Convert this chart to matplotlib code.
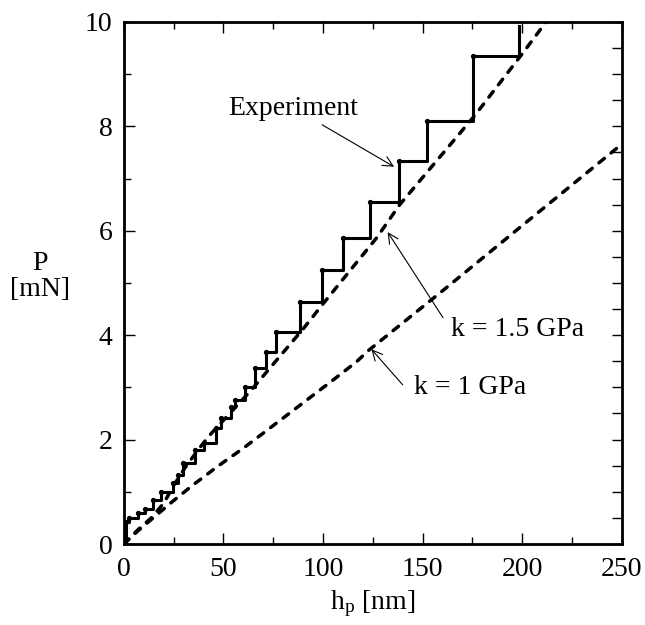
import numpy as np
import matplotlib
matplotlib.use("Agg")
import matplotlib.pyplot as plt

plt.rcParams['font.family'] = ['Liberation Serif', 'DejaVu Serif']
plt.rcParams['mathtext.fontset'] = 'custom'
plt.rcParams['mathtext.rm'] = 'Liberation Serif'
plt.rcParams['mathtext.it'] = 'Liberation Serif:italic'

# experiment staircase corners (h in nm, P in mN)
exp_h = [1.0, 1.0, 2.7, 7.0, 10.4, 14.6, 18.8, 24.6, 27.1, 29.6, 35.8, 40.0,
         46.5, 49.0, 53.9, 55.7, 60.7, 65.8, 71.6, 76.3, 88.4, 99.7, 110.1,
         123.5, 138.2, 152.3, 175.4, 198.5]
exp_P = [0.0, 0.43, 0.49, 0.59, 0.68, 0.84, 1.00, 1.16, 1.32, 1.55, 1.80, 1.93,
         2.22, 2.41, 2.62, 2.76, 3.01, 3.38, 3.68, 4.07, 4.63, 5.25, 5.86,
         6.55, 7.34, 8.11, 9.34, 9.92]

# model curves
k15_h = [0, 7, 13.8, 20, 25, 30.5, 37.2, 43, 64, 90, 100, 127, 138.5, 176, 199, 212]
k15_P = [0, 0.27, 0.50, 0.78, 1.12, 1.45, 1.80, 2.08, 2.95, 4.12, 4.6, 5.87, 6.5,
         8.2, 9.34, 10.0]
k1_h = [0, 7, 13.8, 24, 34.7, 47.2, 59.8, 70.2, 81.6, 93.3, 105, 116.8, 122.6,
        160, 200, 250]
k1_P = [0, 0.25, 0.47, 0.80, 1.13, 1.49, 1.83, 2.13, 2.46, 2.80, 3.14, 3.49,
        3.70, 4.85, 6.1, 7.66]

fig = plt.figure(figsize=(6.45, 6.25), dpi=100)
ax = fig.add_axes([0.192, 0.1296, 0.772, 0.8352])

ax.plot(k15_h, k15_P, color='black', lw=2.5, dashes=(2.0, 2.5),
        dash_capstyle='round')
ax.plot(k1_h, k1_P, color='black', lw=2.5, dashes=(2.0, 2.5),
        dash_capstyle='round')
ax.step(exp_h, exp_P, where='post', color='black', lw=2.2)
ax.plot(exp_h[1:-1], exp_P[1:-1], 'o', color='black', ms=2.8)

ax.set_xlim(0, 250)
ax.set_ylim(0, 10)
ax.set_xticks([0, 50, 100, 150, 200, 250])
ax.set_xticks(np.arange(0, 251, 25), minor=True)
ax.set_yticks([0, 2, 4, 6, 8, 10])
ax.set_yticks(np.arange(0, 10.1, 1), minor=True)
ax.tick_params(which='both', direction='in', top=True, right=False,
               labelsize=20, width=1.0)
ax.tick_params(axis='x', which='both', pad=9)
ax.tick_params(axis='y', which='both', pad=8)
ax.tick_params(which='major', length=8)
ax.tick_params(which='minor', length=5)
for s in ax.spines.values():
    s.set_linewidth(2.0)

# right side ticks every 0.5
ax2 = ax.twinx()
ax2.set_ylim(0, 10)
ax2.set_yticks(np.arange(0, 10.1, 0.5))
ax2.tick_params(direction='in', length=7, width=1.0, labelright=False)

ax.set_xlabel('h$_\\mathrm{p}$ [nm]', fontsize=20, labelpad=5)
fig.text(0.062, 0.558, 'P\n[mN]', fontsize=20, ha='center', va='center',
         linespacing=1.05)

arrow = dict(arrowstyle='->', lw=0.8, color='black', mutation_scale=18)
ax.annotate('Experiment', xy=(136.9, 7.2), xytext=(52.6, 8.35),
            fontsize=20, ha='left', va='center', arrowprops=arrow)
ax.annotate('', xy=(131.7, 6.02), xytext=(161.0, 4.29), arrowprops=arrow)
ax.text(164.3, 4.10, 'k = 1.5 GPa', fontsize=20, ha='left', va='center')
ax.annotate('', xy=(123.4, 3.77), xytext=(140.9, 3.01), arrowprops=arrow)
ax.text(145.9, 2.99, 'k = 1 GPa', fontsize=20, ha='left', va='center')

fig.savefig('out.png', dpi=100)
